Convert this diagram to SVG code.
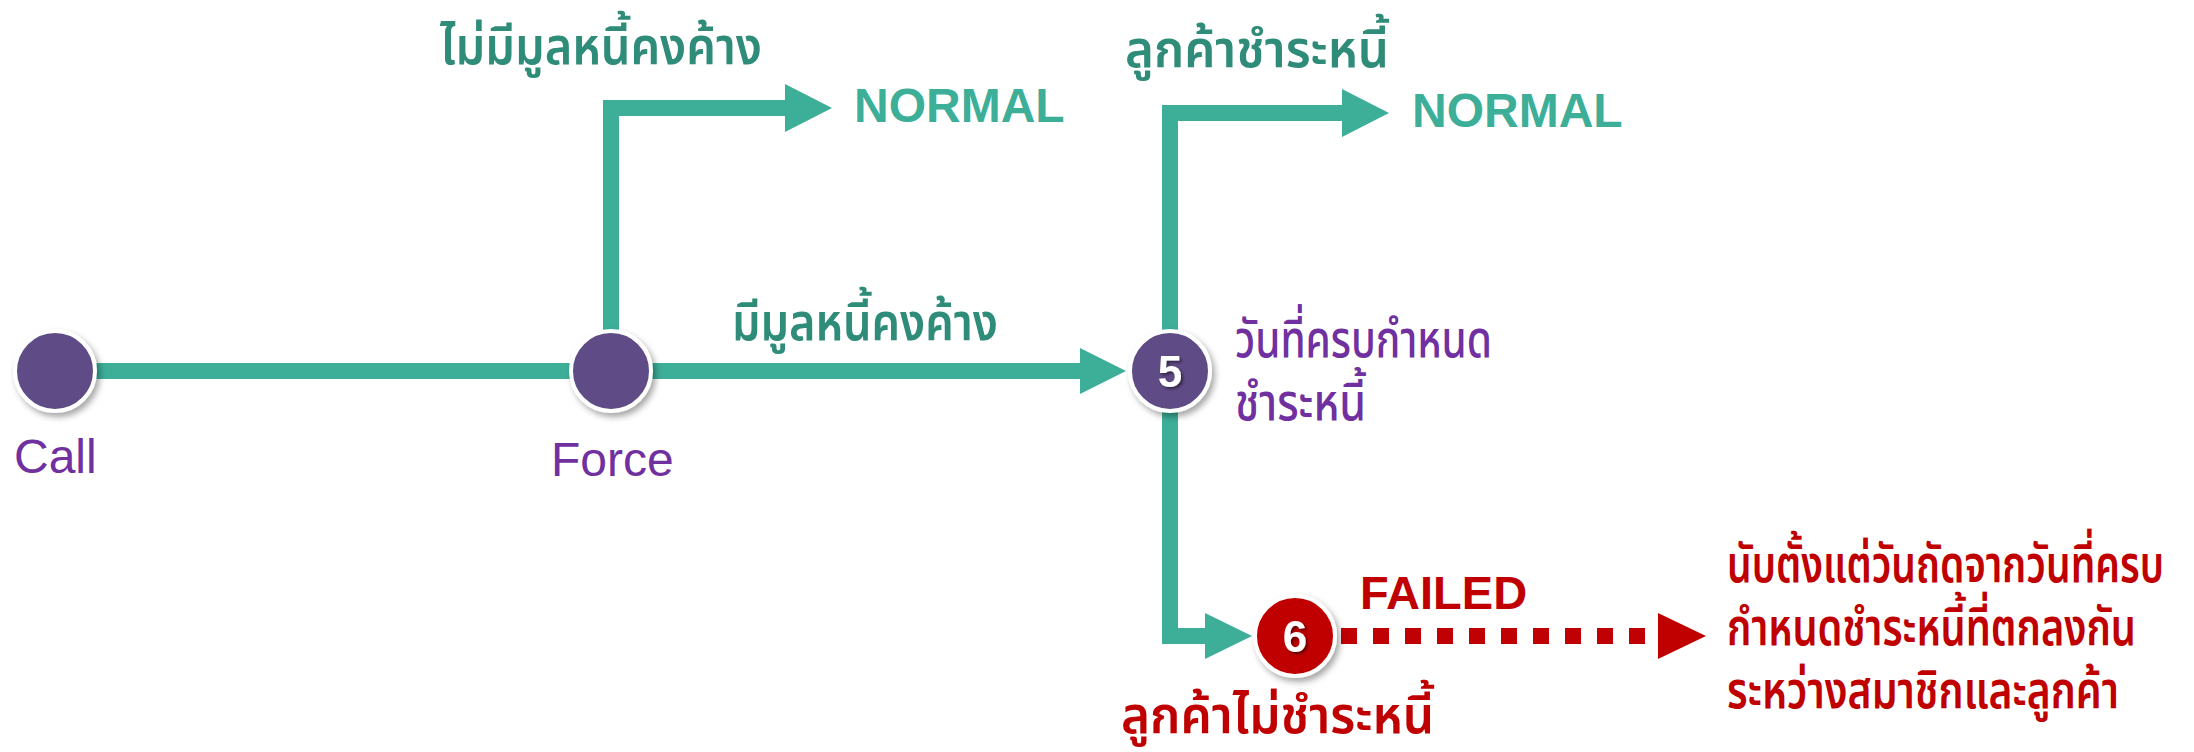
<svg xmlns="http://www.w3.org/2000/svg" width="2194" height="752" viewBox="0 0 2194 752">
<defs>
<filter id="sh" x="-30%" y="-30%" width="160%" height="160%">
<feDropShadow dx="3" dy="4" stdDeviation="3" flood-color="#000" flood-opacity="0.35"/>
</filter>
<filter id="tsh" x="-30%" y="-30%" width="160%" height="160%">
<feDropShadow dx="2" dy="2" stdDeviation="1.5" flood-color="#000" flood-opacity="0.5"/>
</filter>
<style>
.ln{fill:none;stroke:#3DAE98;stroke-width:16;stroke-linejoin:miter;stroke-linecap:butt}
.ah{fill:#3DAE98}
.rd{fill:none;stroke:#C00000;stroke-width:16;stroke-dasharray:16 16}
.rah{fill:#C00000}
.pc{fill:#5E4C86;stroke:#fff;stroke-width:4;filter:url(#sh)}
.rc{fill:#C00000;stroke:#fff;stroke-width:4;filter:url(#sh)}
.num{font-family:"Liberation Sans",Arial,sans-serif;font-weight:bold;font-size:44px;fill:#fff;text-anchor:middle;filter:url(#tsh)}
.en{font-family:"Liberation Sans",Arial,sans-serif;font-size:48px;fill:#7030A0}
.nm{font-family:"Liberation Sans",Arial,sans-serif;font-weight:bold;font-size:48px;fill:#3DAE98}
.fl{font-family:"Liberation Sans",Arial,sans-serif;font-weight:bold;font-size:47px;fill:#C00000}
.th{font-family:"Noto Sans Thai","Noto Sans","DejaVu Sans",sans-serif;font-size:52px}
.tg{fill:#2E8C78;font-weight:600}
.tp{fill:#7030A0;font-weight:500}
.tr{fill:#C00000;font-weight:600}
</style>
</defs>
<g id="connectors">
<path class="ln" d="M95,371 H1082"/>
<polygon class="ah" points="1080,348 1126,371 1080,394"/>
<path class="ln" d="M611,332 V108 H787"/>
<polygon class="ah" points="785,84 832,108 785,132"/>
<path class="ln" d="M1170,332 V113 H1344"/>
<polygon class="ah" points="1342,89 1389,113 1342,137"/>
<path class="ln" d="M1170,410 V636 H1207"/>
<polygon class="ah" points="1205,613 1252,636 1205,659"/>
<path class="rd" d="M1341,636 H1656"/>
<polygon class="rah" points="1658,613 1706,636 1658,659"/>
</g>
<g id="node-call">
<circle class="pc" cx="55" cy="371" r="40"/>
<text class="en" x="14" y="473">Call</text>
</g>
<g id="node-force">
<circle class="pc" cx="611" cy="371" r="40"/>
<text class="en" x="551" y="476">Force</text>
</g>
<g id="node-5">
<circle class="pc" cx="1170" cy="371" r="40"/>
<text class="num" x="1170" y="387">5</text>
<text class="th tp" x="1235" y="357" textLength="257" lengthAdjust="spacingAndGlyphs">วันที่ครบกำหนด</text>
<text class="th tp" x="1235" y="420" textLength="131" lengthAdjust="spacingAndGlyphs">ชำระหนี้</text>
</g>
<g id="node-6">
<circle class="rc" cx="1295" cy="636" r="40"/>
<text class="num" x="1295" y="652">6</text>
</g>
<g id="labels">
<text class="th tg" x="440" y="64" textLength="322" lengthAdjust="spacingAndGlyphs">ไม่มีมูลหนี้คงค้าง</text>
<text class="nm" x="854" y="122">NORMAL</text>
<text class="th tg" x="732" y="340" textLength="266" lengthAdjust="spacingAndGlyphs">มีมูลหนี้คงค้าง</text>
<text class="th tg" x="1125" y="67" textLength="264" lengthAdjust="spacingAndGlyphs">ลูกค้าชำระหนี้</text>
<text class="nm" x="1412" y="127">NORMAL</text>
<text class="fl" x="1360" y="609">FAILED</text>
<text class="th tr" x="1121" y="733" textLength="313" lengthAdjust="spacingAndGlyphs">ลูกค้าไม่ชำระหนี้</text>
<text class="th tr" x="1727" y="582" textLength="437" lengthAdjust="spacingAndGlyphs">นับตั้งแต่วันถัดจากวันที่ครบ</text>
<text class="th tr" x="1727" y="645" textLength="409" lengthAdjust="spacingAndGlyphs">กำหนดชำระหนี้ที่ตกลงกัน</text>
<text class="th tr" x="1727" y="708" textLength="392" lengthAdjust="spacingAndGlyphs">ระหว่างสมาชิกและลูกค้า</text>
</g>
</svg>
